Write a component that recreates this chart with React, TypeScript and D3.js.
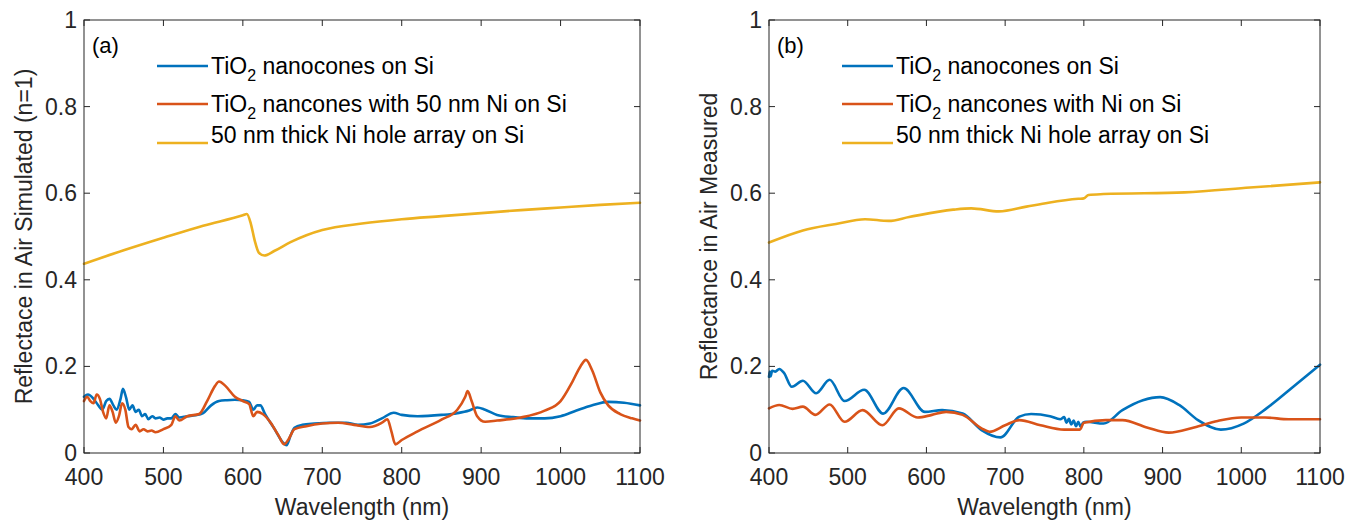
import * as d3 from "d3";

// wavelength (nm) / reflectance pairs
const simNanocones: [number, number][] = [
  [400, 0.13], [405, 0.135], [412, 0.125], [418, 0.11], [423, 0.1], [428, 0.12], [432, 0.125],
  [437, 0.11], [441, 0.1], [446, 0.125], [449, 0.148], [453, 0.128], [457, 0.1], [461, 0.11],
  [465, 0.095], [469, 0.1], [473, 0.085], [477, 0.09], [481, 0.078], [486, 0.085], [490, 0.08],
  [495, 0.082], [500, 0.077], [505, 0.08], [510, 0.08], [515, 0.09], [520, 0.082], [530, 0.085],
  [540, 0.087], [550, 0.092], [560, 0.11], [570, 0.12], [580, 0.122], [590, 0.123], [600, 0.122],
  [608, 0.118], [613, 0.1], [618, 0.11], [622, 0.11], [628, 0.09], [640, 0.055], [650, 0.025],
  [655, 0.018], [660, 0.04], [665, 0.058], [675, 0.065], [690, 0.068], [710, 0.07], [730, 0.07],
  [745, 0.065], [760, 0.068], [775, 0.08], [790, 0.093], [800, 0.088], [820, 0.085], [850, 0.088],
  [870, 0.092], [885, 0.098], [895, 0.105], [905, 0.1], [920, 0.088], [940, 0.083], [960, 0.08],
  [980, 0.08], [1000, 0.085], [1020, 0.098], [1040, 0.11], [1060, 0.118], [1080, 0.116], [1100, 0.11],
];

const simNickel: [number, number][] = [
  [400, 0.12], [404, 0.13], [408, 0.12], [412, 0.115], [416, 0.135], [420, 0.125], [424, 0.095],
  [428, 0.08], [432, 0.11], [436, 0.095], [440, 0.07], [444, 0.085], [448, 0.115], [452, 0.1],
  [456, 0.06], [460, 0.055], [465, 0.065], [470, 0.05], [475, 0.055], [480, 0.05], [485, 0.052],
  [490, 0.048], [500, 0.055], [510, 0.065], [515, 0.085], [520, 0.075], [530, 0.085], [545, 0.09],
  [555, 0.12], [565, 0.155], [570, 0.165], [578, 0.155], [590, 0.13], [600, 0.12], [608, 0.113],
  [613, 0.085], [618, 0.095], [625, 0.09], [635, 0.07], [645, 0.04], [652, 0.02], [657, 0.03],
  [665, 0.055], [680, 0.062], [700, 0.068], [720, 0.07], [740, 0.065], [760, 0.06], [775, 0.07],
  [782, 0.078], [787, 0.05], [792, 0.02], [800, 0.03], [820, 0.05], [850, 0.077], [870, 0.1],
  [880, 0.13], [883, 0.143], [888, 0.12], [895, 0.085], [905, 0.072], [920, 0.075], [950, 0.082],
  [980, 0.098], [1000, 0.12], [1015, 0.165], [1025, 0.2], [1032, 0.215], [1040, 0.19], [1050, 0.14],
  [1060, 0.11], [1075, 0.09], [1090, 0.08], [1100, 0.075],
];

const simHoles: [number, number][] = [
  [400, 0.437], [450, 0.468], [500, 0.497], [550, 0.525], [600, 0.549], [605, 0.552], [610, 0.53],
  [615, 0.49], [620, 0.463], [627, 0.456], [640, 0.467], [660, 0.487], [680, 0.503], [700, 0.515],
  [750, 0.53], [800, 0.54], [850, 0.547], [900, 0.554], [950, 0.561], [1000, 0.567], [1050, 0.573],
  [1100, 0.578],
];

const measNanocones: [number, number][] = [
  [400, 0.176], [401, 0.188], [402, 0.177], [404, 0.19], [408, 0.188], [413, 0.194], [419, 0.185],
  [429, 0.153], [443, 0.167], [460, 0.138], [477, 0.169], [496, 0.12], [521, 0.146], [545, 0.091],
  [571, 0.15], [598, 0.095], [620, 0.099], [646, 0.091], [670, 0.053], [694, 0.036], [718, 0.084],
  [733, 0.09], [757, 0.085], [770, 0.078], [775, 0.083], [778, 0.07], [781, 0.079], [784, 0.066],
  [787, 0.075], [790, 0.062], [793, 0.072], [796, 0.06], [799, 0.07], [803, 0.072], [825, 0.068],
  [849, 0.099], [875, 0.122], [897, 0.129], [921, 0.111], [945, 0.076], [974, 0.054], [1003, 0.068],
  [1032, 0.103], [1066, 0.153], [1100, 0.204],
];

const measNickel: [number, number][] = [
  [400, 0.103], [413, 0.111], [430, 0.102], [443, 0.107], [459, 0.088], [477, 0.112], [496, 0.072],
  [519, 0.099], [544, 0.064], [565, 0.103], [589, 0.082], [607, 0.088], [625, 0.095], [646, 0.088],
  [670, 0.057], [680, 0.049], [700, 0.064], [718, 0.076], [745, 0.064], [775, 0.054], [795, 0.054],
  [800, 0.07], [828, 0.076], [849, 0.076], [880, 0.059], [908, 0.047], [940, 0.059], [970, 0.074],
  [1000, 0.082], [1030, 0.082], [1060, 0.078], [1100, 0.078],
];

const measHoles: [number, number][] = [
  [400, 0.486], [443, 0.514], [485, 0.529], [522, 0.54], [552, 0.536], [578, 0.545], [634, 0.562],
  [657, 0.565], [692, 0.558], [727, 0.569], [755, 0.578], [793, 0.587], [800, 0.588], [806, 0.596],
  [825, 0.598], [928, 0.602], [1011, 0.613], [1100, 0.625],
];

const xTicks = [400, 500, 600, 700, 800, 900, 1000, 1100];
const yTicks = [0, 0.2, 0.4, 0.6, 0.8, 1];
const yTickLabels = ["0", "0.2", "0.4", "0.6", "0.8", "1"];
const colors = ["#0072BD", "#D95319", "#EDB120"];

const W = 1350;
const H = 520;
const FONT = "'Liberation Sans', Arial, Helvetica, sans-serif";
const AXIS = "#262626";

type Legend = { pre: string; sub: string; post: string };

function Panel({ left, right, tag, yLabel, series, legend }: {
  left: number; right: number; tag: string; yLabel: string;
  series: [number, number][][]; legend: Legend[];
}) {
  const top = 20, bottom = 453;
  const x = d3.scaleLinear().domain([400, 1100]).range([left, right]);
  const y = d3.scaleLinear().domain([0, 1]).range([bottom, top]);
  const line = d3.line<[number, number]>()
    .x(d => x(d[0]))
    .y(d => y(d[1]))
    .curve(d3.curveMonotoneX);
  const tl = 6;
  const legX = left + 73;
  const legY = [66, 104, 143];

  return (
    <g fontFamily={FONT}>
      {series.map((s, i) => (
        <path key={i} d={line(s) ?? ""} fill="none" stroke={colors[i]} strokeWidth={2.6}
          strokeLinejoin="round" strokeLinecap="round" />
      ))}
      <rect x={left} y={top} width={right - left} height={bottom - top} fill="none" stroke={AXIS} strokeWidth={1} />
      {xTicks.map(t => (
        <g key={t}>
          <line x1={x(t)} x2={x(t)} y1={bottom} y2={bottom - tl} stroke={AXIS} />
          <line x1={x(t)} x2={x(t)} y1={top} y2={top + tl} stroke={AXIS} />
          <text x={x(t)} y={477} textAnchor="middle" dominantBaseline="central" fontSize={23} fill={AXIS}>{t}</text>
        </g>
      ))}
      {yTicks.map((t, i) => (
        <g key={t}>
          <line x1={left} x2={left + tl} y1={y(t)} y2={y(t)} stroke={AXIS} />
          <line x1={right} x2={right - tl} y1={y(t)} y2={y(t)} stroke={AXIS} />
          <text x={left - 7} y={y(t)} textAnchor="end" dominantBaseline="central" fontSize={23} fill={AXIS}>{yTickLabels[i]}</text>
        </g>
      ))}
      <text x={(left + right) / 2} y={507} textAnchor="middle" dominantBaseline="central" fontSize={23} fill={AXIS}>Wavelength (nm)</text>
      <text transform={`translate(${left - 60},${(top + bottom) / 2}) rotate(-90)`} textAnchor="middle"
        dominantBaseline="central" fontSize={23} fill={AXIS}>{yLabel}</text>
      <text x={left + 8} y={45} dominantBaseline="central" fontSize={22} fill="#000">{tag}</text>
      {legend.map((l, i) => (
        <g key={i}>
          <line x1={legX} x2={legX + 51} y1={legY[i]} y2={legY[i]} stroke={colors[i]} strokeWidth={2.6} />
          <text x={legX + 54} y={legY[i]} dy="0.35em" fontSize={23} fill="#000">
            {l.pre}
            {l.sub && <tspan dy={7} fontSize={16}>{l.sub}</tspan>}
            <tspan dy={l.sub ? -7 : 0}>{l.post}</tspan>
          </text>
        </g>
      ))}
    </g>
  );
}

export default function App() {
  const legendA: Legend[] = [
    { pre: "TiO", sub: "2", post: " nanocones on Si" },
    { pre: "TiO", sub: "2", post: " nancones with 50 nm Ni on Si" },
    { pre: "", sub: "", post: "50 nm thick Ni hole array on Si" },
  ];
  const legendB: Legend[] = [
    { pre: "TiO", sub: "2", post: " nanocones on Si" },
    { pre: "TiO", sub: "2", post: " nancones with Ni on Si" },
    { pre: "", sub: "", post: "50 nm thick Ni hole array on Si" },
  ];
  return (
    <svg width={W} height={H} style={{ position: "absolute", left: 0, top: 0, background: "#fff" }}>
      <Panel left={84} right={640} tag="(a)" yLabel="Reflectace in Air Simulated (n=1)"
        series={[simNanocones, simNickel, simHoles]} legend={legendA} />
      <Panel left={769} right={1320} tag="(b)" yLabel="Reflectance in Air Measured"
        series={[measNanocones, measNickel, measHoles]} legend={legendB} />
    </svg>
  );
}
